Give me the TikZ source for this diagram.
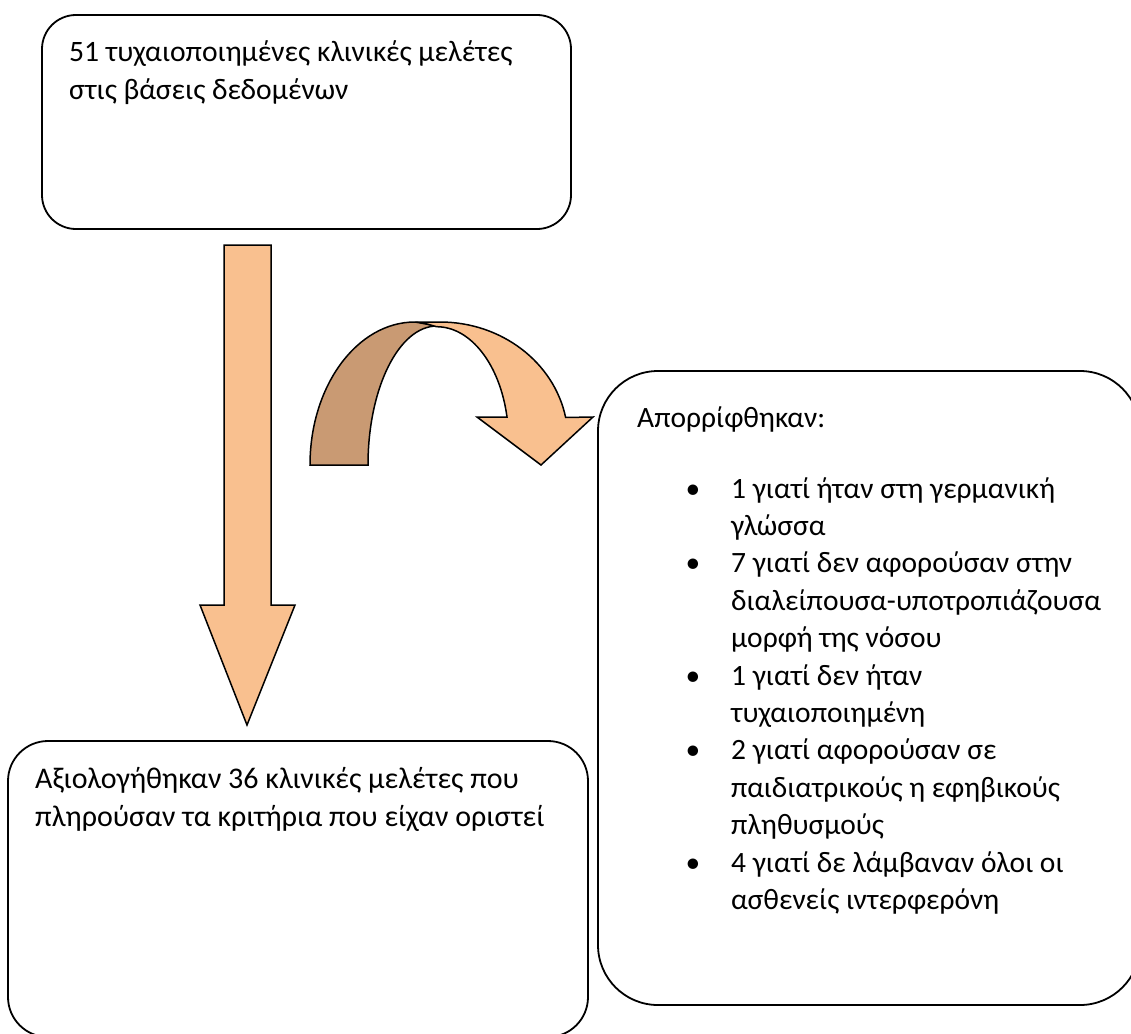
\documentclass[tikz,border=0pt]{standalone}
\usepackage{fontspec}
\setmainfont{Carlito}
\definecolor{arrowlight}{RGB}{249,192,143}
\definecolor{arrowdark}{RGB}{201,154,115}
\begin{document}
\begin{tikzpicture}[x=1pt,y=-1pt,
  box/.style={draw=black,line width=1.8pt},
  txt/.style={anchor=base west,inner sep=0pt},
  fA/.style={font=\fontsize{29.6}{37}\selectfont},
  fB/.style={font=\fontsize{30}{37}\selectfont},
  fC/.style={font=\fontsize{29.5}{37.4}\selectfont},
  bul/.style={anchor=base,inner sep=0pt,font=\fontsize{29.5}{37.4}\selectfont},
  arrowshape/.style={draw=black,line width=1.5pt,line join=miter}]
\useasboundingbox (0,0) rectangle (1131,1033);
\clip (0,0) rectangle (1131,1033);
% boxes
\draw[box,rounded corners=34pt] (42,15) rectangle (571,229);
\draw[box,rounded corners=40pt] (8,741) rectangle (588,1037);
\draw[box,rounded corners=60pt] (598,371) rectangle (1140,1005);
% down arrow
\draw[arrowshape,fill=arrowlight] (224,245) -- (271,245) -- (271,605) -- (295,605) -- (247,725) -- (200,605) -- (224,605) -- cycle;
% curved arrow: back (dark) part
\draw[arrowshape,fill=arrowdark] (310,465) -- (368,465)
  arc[start angle=180,end angle=270,x radius=69,y radius=139]
  -- (415,322)
  arc[start angle=270,end angle=180,x radius=105,y radius=143] -- cycle;
% curved arrow: front (light) part
\draw[arrowshape,fill=arrowlight] (420,322) -- (440,322)
  arc[start angle=270,end angle=349,x radius=128,y radius=118]
  -- (593,417) -- (541,465) -- (477,417) -- (507,417)
  arc[start angle=348,end angle=270,x radius=72,y radius=114]
  -- cycle;
% texts
\node[txt,fA] (t1a) at (69,62) {51 τυχαιοποιημένες κλινικές μελέτες};
\node[txt,fA] (t1b) at (69,99) {στις βάσεις δεδομένων};
\node[txt,fB] (t2a) at (35,788) {Αξιολογήθηκαν 36 κλινικές μελέτες που};
\node[txt,fB] (t2b) at (35,826) {πληρούσαν τα κριτήρια που είχαν οριστεί};
\node[txt,fC] (t3) at (637,427) {Απορρίφθηκαν:};
\foreach \y/\t [count=\i] in {
    498/{1 γιατί ήταν στη γερμανική},
    535.4/{γλώσσα},
    572.8/{7 γιατί δεν αφορούσαν στην},
    610.2/{διαλείπουσα-υποτροπιάζουσα},
    647.6/{μορφή της νόσου},
    685/{1 γιατί δεν ήταν},
    722.4/{τυχαιοποιημένη},
    759.8/{2 γιατί αφορούσαν σε},
    797.2/{παιδιατρικούς η εφηβικούς},
    834.6/{πληθυσμούς},
    872/{4 γιατί δε λάμβαναν όλοι οι},
    909.4/{ασθενείς ιντερφερόνη}}{
  \node[txt,fC] (l\i) at (731,\y) {\t};
}
\foreach \y [count=\i] in {498,572.8,685,759.8,872}{
  \node[bul] (b\i) at (693,\y) {•};
}
\end{tikzpicture}
\end{document}
